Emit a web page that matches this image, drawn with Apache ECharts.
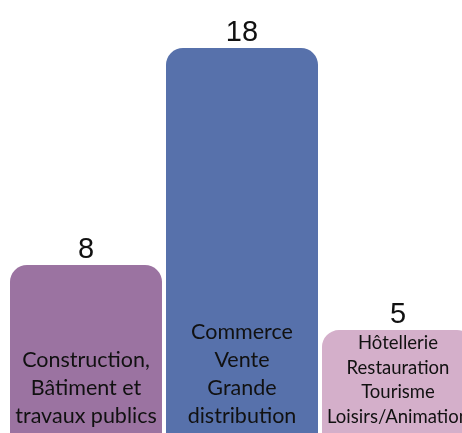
<!DOCTYPE html>
<html>
<head>
<meta charset="utf-8">
<script src="https://cdn.jsdelivr.net/npm/echarts@6/dist/echarts.min.js"></script>
<style>
  html, body { margin: 0; padding: 0; background: #fff; }
  #chart { width: 462px; height: 433px; }
</style>
</head>
<body>
<div id="chart"></div>
<script>
// Sector names (one line per text row) and counts
const categories = [
  'Construction,\nBâtiment et\ntravaux publics',
  'Commerce\nVente\nGrande\ndistribution',
  'Hôtellerie\nRestauration\nTourisme\nLoisirs/Animation'
];
const counts = [8, 18, 5];
const barColors = ['#9b73a1', '#5771ab', '#d4afca'];

const bigText = { fontSize: 21.5, lineHeight: 28, distance: 8.6 };
const smallText = { fontSize: 18.5, lineHeight: 24.5, distance: 9.8 };
const nameStyles = [bigText, bigText, smallText];

const chart = echarts.init(document.getElementById('chart'));
chart.setOption({
  animation: false,
  grid: { left: 8, width: 468, top: 48, height: 390.6, outerBoundsMode: 'none' },
  xAxis: {
    type: 'category',
    data: categories,
    axisLine: { show: false },
    axisTick: { show: false },
    axisLabel: { show: false }
  },
  yAxis: {
    type: 'value',
    min: 0,
    max: 18,
    show: false,
    splitLine: { show: false }
  },
  series: [
    {
      // bars with their counts above
      type: 'bar',
      barWidth: 152,
      data: counts.map((v, i) => ({ value: v, itemStyle: { color: barColors[i] } })),
      itemStyle: { borderRadius: [17, 17, 0, 0] },
      label: {
        show: true,
        position: 'top',
        distance: 1,
        fontFamily: 'Liberation Sans',
        fontSize: 29,
        color: '#111'
      }
    },
    {
      // sector names written inside the bars, near their base
      type: 'bar',
      barWidth: 152,
      barGap: '-100%',
      silent: true,
      z: 3,
      data: counts.map((v, i) => ({
        value: v,
        label: {
          fontSize: nameStyles[i].fontSize,
          lineHeight: nameStyles[i].lineHeight,
          distance: nameStyles[i].distance
        }
      })),
      itemStyle: { color: 'rgba(0,0,0,0)' },
      label: {
        show: true,
        position: 'insideBottom',
        fontFamily: 'Lato',
        color: '#111',
        align: 'center',
        formatter: (p) => categories[p.dataIndex]
      }
    }
  ]
});
</script>
</body>
</html>
